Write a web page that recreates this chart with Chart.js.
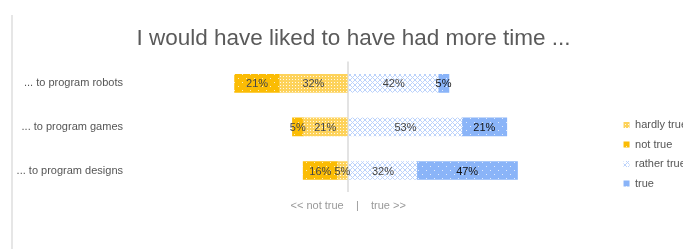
<!DOCTYPE html>
<html>
<head>
<meta charset="utf-8">
<script src="https://cdn.jsdelivr.net/npm/chart.js@4/dist/chart.umd.min.js"></script>
<style>
  html, body { margin: 0; padding: 0; background: #fff; }
  #wrap { position: relative; width: 683px; height: 249px; overflow: hidden; }
  #edge { position: absolute; left: 11px; top: 15px; width: 2px; height: 234px; background: #e6e6e6; }
  canvas { position: absolute; left: 0; top: 0; }
</style>
</head>
<body>
<div id="wrap"><div id="edge"></div><canvas id="c" width="683" height="249"></canvas></div>
<script>
const chartTitle = "I would have liked to have had more time ...";
const axisNote = "<< not true    |    true >>";
const categories = ["... to program robots", "... to program games", "... to program designs"];
const seriesNames = ["hardly true", "not true", "rather true", "true"];
const hardlyTrue = [32, 21, 5];
const notTrue = [21, 5, 16];
const ratherTrue = [42, 53, 32];
const fullyTrue = [5, 21, 47];

function makePattern(w, h, draw) {
  const c = document.createElement('canvas');
  c.width = w; c.height = h;
  const g = c.getContext('2d');
  draw(g, w, h);
  return document.getElementById('c').getContext('2d').createPattern(c, 'repeat');
}
const patNot = makePattern(8, 8, (g, w, h) => {
  g.fillStyle = '#FBBC04'; g.fillRect(0, 0, w, h);
  g.fillStyle = 'rgba(255,255,255,0.75)';
  g.fillRect(2, 2, 1, 1); g.fillRect(6, 6, 1, 1);
});
const patHardly = makePattern(3, 3, (g, w, h) => {
  g.fillStyle = '#FDD25A'; g.fillRect(0, 0, w, h);
  g.fillStyle = 'rgba(255,255,255,0.85)';
  g.fillRect(1, 1, 1, 1);
});
const patRather = makePattern(5, 5, (g, w, h) => {
  g.fillStyle = '#ffffff'; g.fillRect(0, 0, w, h);
  g.strokeStyle = '#BBD2FB'; g.lineWidth = 1;
  g.beginPath();
  g.moveTo(0, 0); g.lineTo(5, 5);
  g.moveTo(5, 0); g.lineTo(0, 5);
  g.stroke();
});
const patTrue = makePattern(8, 8, (g, w, h) => {
  g.fillStyle = '#8AB4F8'; g.fillRect(0, 0, w, h);
  g.fillStyle = 'rgba(255,255,255,0.75)';
  g.fillRect(2, 2, 1, 1); g.fillRect(6, 6, 1, 1);
});

const labelPlugin = {
  id: 'barLabels',
  afterDatasetsDraw(chart) {
    const ctx = chart.ctx;
    ctx.save();
    ctx.font = '11px "Liberation Sans", Arial, sans-serif';
    ctx.textAlign = 'center';
    ctx.textBaseline = 'middle';
    chart.data.datasets.forEach((ds, di) => {
      const meta = chart.getDatasetMeta(di);
      meta.data.forEach((bar, i) => {
        const v = Math.abs(ds.data[i]);
        const p = bar.getProps(['x', 'y', 'base'], true);
        const cx = (p.x + p.base) / 2;
        ctx.fillStyle = di === 3 ? '#111' : '#444';
        ctx.fillText(v + '%', cx, p.y + 1);
      });
    });
    ctx.restore();
  }
};

new Chart(document.getElementById('c'), {
  type: 'bar',
  data: {
    labels: categories,
    datasets: [
      { label: seriesNames[0], data: hardlyTrue.map(v => -v), backgroundColor: patHardly },
      { label: seriesNames[1], data: notTrue.map(v => -v), backgroundColor: patNot },
      { label: seriesNames[2], data: ratherTrue, backgroundColor: patRather },
      { label: seriesNames[3], data: fullyTrue, backgroundColor: patTrue }
    ]
  },
  options: {
    indexAxis: 'y',
    responsive: false,
    animation: false,
    events: [],
    datasets: { bar: { barThickness: 18, borderWidth: 0 } },
    layout: { padding: { left: 10, right: -14, top: 0, bottom: 29.5 } },
    scales: {
      x: {
        stacked: true,
        min: -85, max: 124.5,
        afterBuildTicks(scale) { scale.ticks = [{ value: 0 }]; },
        ticks: {
          callback() { return axisNote; },
          color: '#999', padding: 7,
          font: { family: '"Liberation Sans", Arial, sans-serif', size: 11 },
          maxRotation: 0, autoSkip: false
        },
        grid: { color: '#e3e3e3', lineWidth: 2, drawTicks: false },
        border: { display: false }
      },
      y: {
        stacked: true,
        afterFit(scale) { scale.width = 156; },
        ticks: {
          color: '#555', padding: 43,
          font: { family: '"Liberation Sans", Arial, sans-serif', size: 11 }
        },
        grid: { display: false, drawTicks: false },
        border: { display: false }
      }
    },
    plugins: {
      title: {
        display: true, text: chartTitle, color: '#5a5a5a',
        font: { family: '"Liberation Sans", Arial, sans-serif', size: 22.5, weight: 'normal' },
        padding: { top: 25, bottom: 9.6 }
      },
      legend: {
        position: 'right',
        align: 'start',
        title: { display: true, text: ' ', padding: { top: 97.8, bottom: 0 },
                 font: { family: '"Liberation Sans", Arial, sans-serif', size: 11 } },
        labels: {
          boxWidth: 6, boxHeight: 6, padding: 8.5, color: '#555',
          font: { family: '"Liberation Sans", Arial, sans-serif', size: 11 }
        }
      },
      tooltip: { enabled: false }
    }
  },
  plugins: [labelPlugin]
});
</script>
</body>
</html>
